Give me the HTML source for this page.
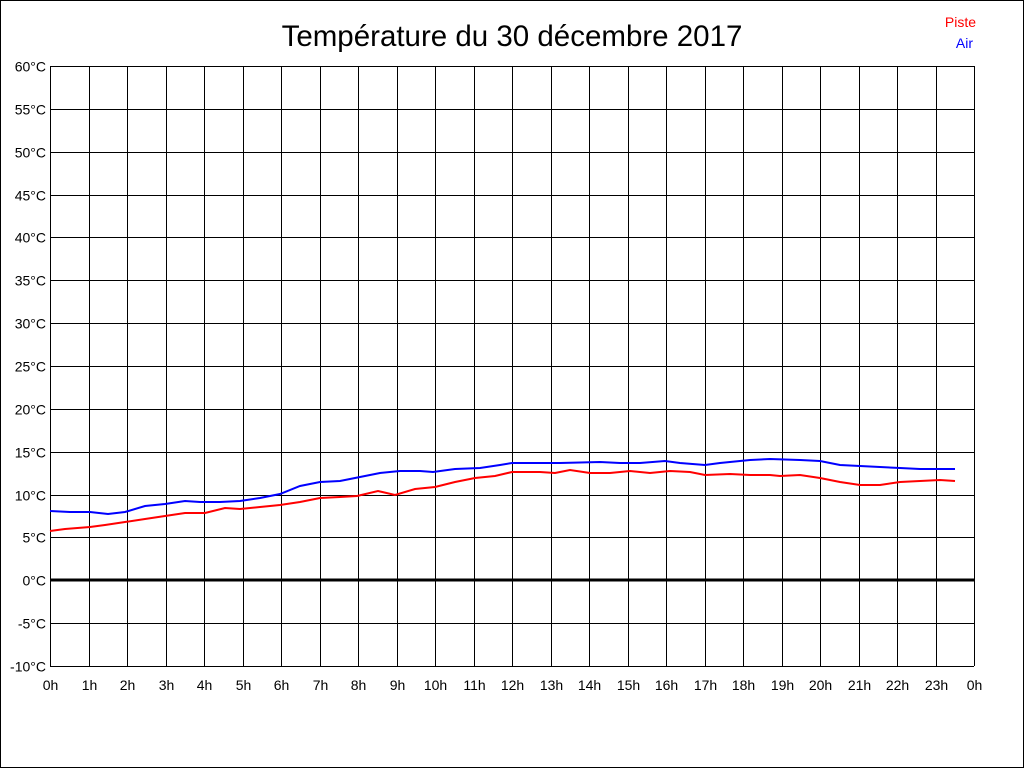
<!DOCTYPE html>
<html><head><meta charset="utf-8"><style>
html,body{margin:0;padding:0;background:#fff;}
svg{display:block;}
text{font-family:"Liberation Sans",Arial,sans-serif;}
</style></head><body>
<svg width="1024" height="768" xmlns="http://www.w3.org/2000/svg">
<rect x="0.5" y="0.5" width="1023" height="767" fill="#fff" stroke="#000"/>
<text x="512" y="46" font-size="29.5" text-anchor="middle">Température du 30 décembre 2017</text>
<text x="976" y="27" font-size="14" fill="#f00" text-anchor="end">Piste</text>
<text x="973" y="48" font-size="14" fill="#00f" text-anchor="end">Air</text>
<g stroke="#000" stroke-width="1" shape-rendering="crispEdges" id="grid"></g>
<g font-size="14" id="labels"></g>
<line x1="50" y1="580" x2="974" y2="580" stroke="#000" stroke-width="3"/>
<polyline fill="none" stroke="#00f" stroke-width="2" points="50,511 70,512 90,512 108,514 125,512 145,506 165,504 185,501 200,502 220,502 240,501 260,498 280,494 300,486 320,482 340,481 360,477 380,473 400,471 420,471 433,472 455,469 480,468 500,465 512,463 540,463 560,463 600,462 620,463 640,463 665,461 680,463 705,465 720,463 750,460 770,459 800,460 820,461 840,465 860,466 880,467 900,468 920,469 940,469 955,469"/>
<polyline fill="none" stroke="#f00" stroke-width="2" points="50,531 65,529 90,527 105,525 125,522 145,519 165,516 185,513 205,513 225,508 240,509 260,507 280,505 300,502 320,498 340,497 357,496 378,491 395,495 415,489 435,487 455,482 475,478 495,476 512,472 540,472 555,473 570,470 590,473 610,473 630,471 650,473 670,471 690,472 705,475 730,474 750,475 770,475 780,476 800,475 820,478 840,482 860,485 880,485 900,482 920,481 940,480 955,481"/>
</svg>
<script>
var g=document.getElementById('grid'),l=document.getElementById('labels'),ns='http://www.w3.org/2000/svg';
for(var i=0;i<=14;i++){var y=Math.round(66+i*600/14)+0.5;
var e=document.createElementNS(ns,'line');e.setAttribute('x1',50);e.setAttribute('x2',974);e.setAttribute('y1',y);e.setAttribute('y2',y);g.appendChild(e);
var t=document.createElementNS(ns,'text');t.setAttribute('x',46);t.setAttribute('y',y+5);t.setAttribute('text-anchor','end');t.textContent=(60-i*5)+'°C';l.appendChild(t);}
for(var i=0;i<=24;i++){var x=Math.round(50+i*38.5)+0.5;
var e=document.createElementNS(ns,'line');e.setAttribute('x1',x);e.setAttribute('x2',x);e.setAttribute('y1',66);e.setAttribute('y2',666);g.appendChild(e);
var t=document.createElementNS(ns,'text');t.setAttribute('x',x);t.setAttribute('y',690);t.setAttribute('text-anchor','middle');t.textContent=(i%24)+'h';l.appendChild(t);}
</script>
</body></html>
